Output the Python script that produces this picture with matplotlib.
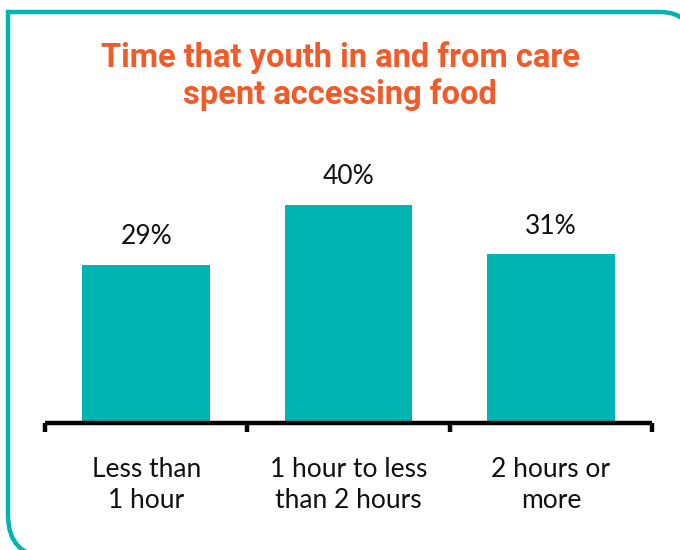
import matplotlib
matplotlib.use("Agg")
import matplotlib.pyplot as plt
from matplotlib.path import Path
from matplotlib.patches import PathPatch

categories = ["Less than\n1 hour", "1 hour to less\nthan 2 hours", "2 hours or\nmore"]
values = [29, 40, 31]
labels = ["29%", "40%", "31%"]
title = "Time that youth in and from care\nspent accessing food"

TEAL = "#00B5B1"
ORANGE = "#F15A29"
W, H = 680, 550

fig = plt.figure(figsize=(6.8, 5.5), dpi=100)
fig.patch.set_facecolor("white")

def fx(x): return x / W
def fy(y): return 1 - y / H

L, T, B = 8, 12, 557
r_tr, r_bl = 32, 42
codes = [Path.MOVETO, Path.CURVE3, Path.CURVE3, Path.LINETO, Path.LINETO,
         Path.CURVE3, Path.CURVE3, Path.LINETO]
verts = [
    (fx(692), fy(T + r_tr)),
    (fx(692), fy(T)), (fx(692 - r_tr), fy(T)),
    (fx(L), fy(T)),
    (fx(L), fy(B - r_bl)),
    (fx(L), fy(B)), (fx(L + r_bl), fy(B)),
    (fx(720), fy(B)),
]
fig.patches.append(PathPatch(Path(verts, codes), transform=fig.transFigure,
                             fill=False, edgecolor=TEAL, lw=3.2, zorder=0))

ax = fig.add_axes([45 / W, (H - 423) / H, 607 / W, 218 / H])
ax.set_xlim(-0.5, 2.5)
ax.set_ylim(0, 40)
ax.axis("off")

x = range(len(values))
ax.bar(x, values, width=0.63, color=TEAL, zorder=2)

for xi, v, lab in zip(x, values, labels):
    ax.annotate(lab, (xi, v), xytext=(0, 28), textcoords="offset pixels",
                ha="center", va="center", fontsize=19, family="Lato",
                color="#111111")

ax.plot([-0.5, 2.5], [0, 0], color="black", lw=3.2, solid_capstyle="butt",
        clip_on=False, zorder=3)
for t in [-0.5, 0.5, 1.5, 2.5]:
    ax.plot([t, t], [0, -1.7], color="black", lw=3.2, solid_capstyle="butt",
            clip_on=False, zorder=3)

for xi, c in zip(x, categories):
    ax.annotate(c, (xi, 0), xytext=(0, -62), textcoords="offset pixels",
                ha="center", va="center", fontsize=19, family="Lato",
                color="#111111", linespacing=1.3)

fig.text(0.5, fy(76), title, ha="center", va="center", fontsize=23.5,
         family="Roboto", fontweight="bold", color=ORANGE, linespacing=1.15)

fig.savefig("out.png", dpi=100)
